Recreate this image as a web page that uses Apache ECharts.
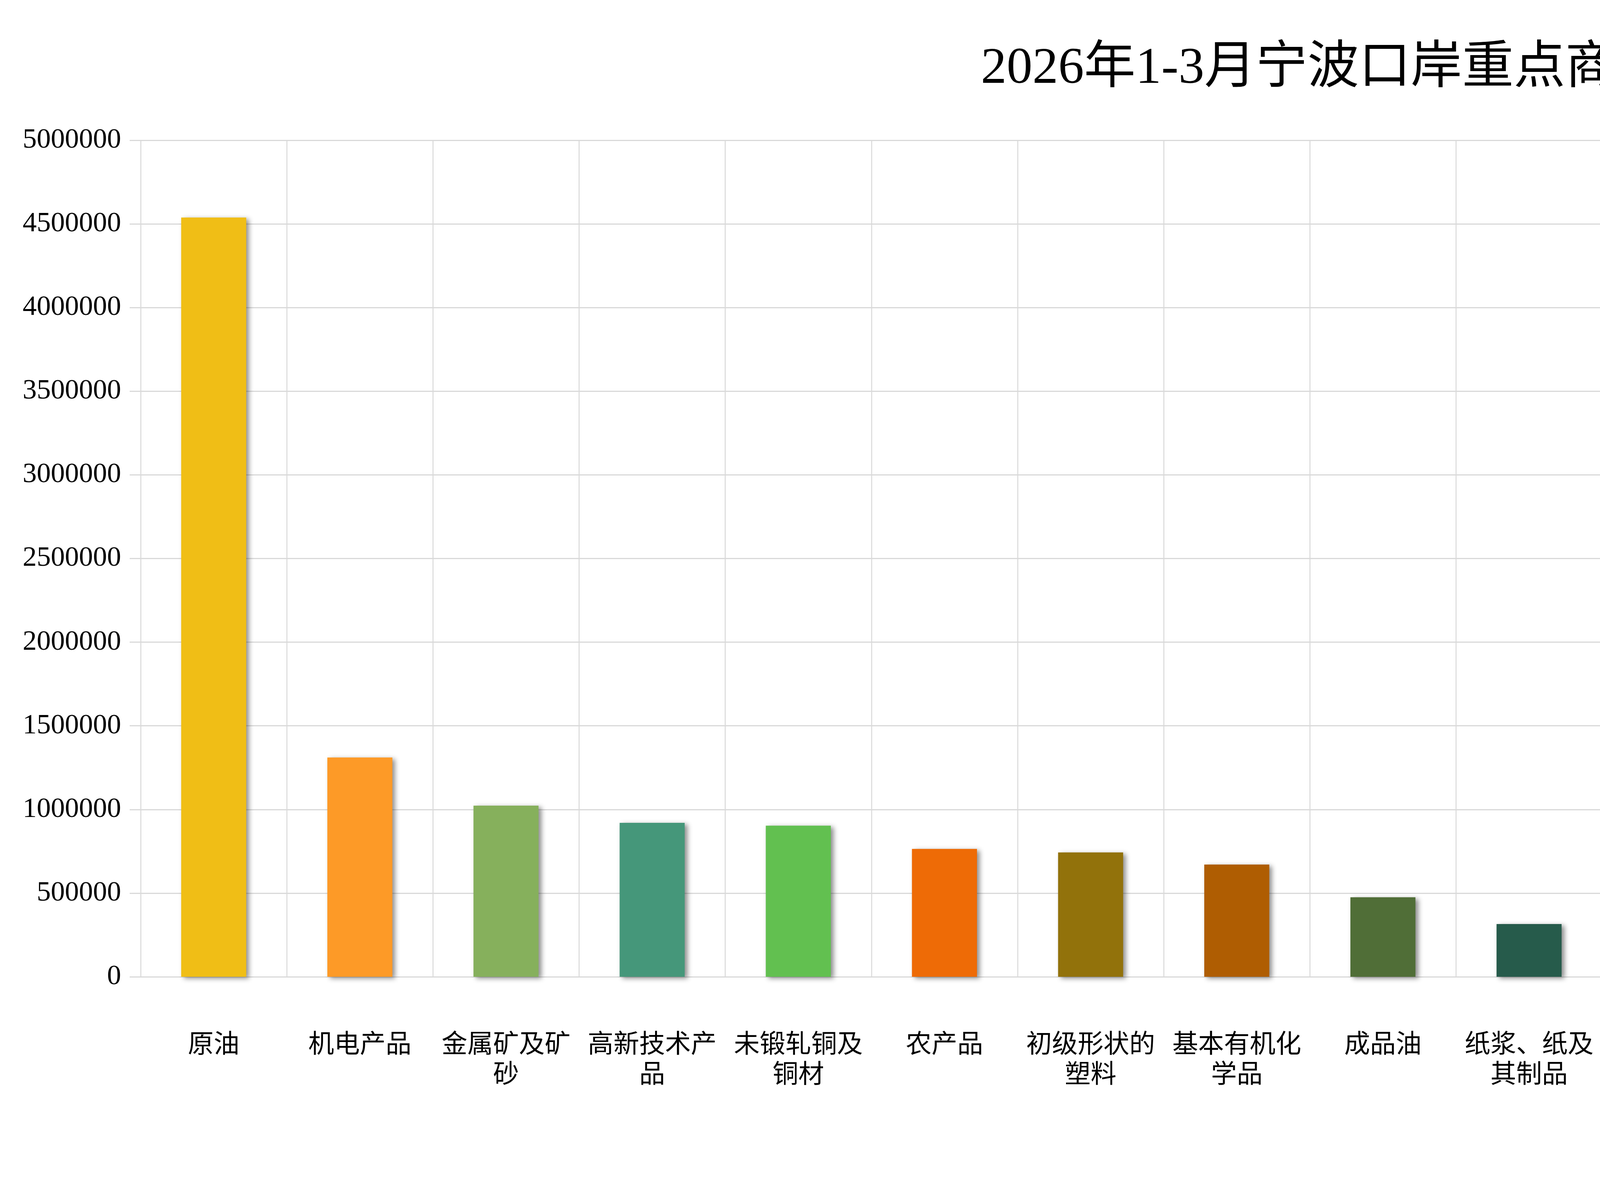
<!DOCTYPE html>
<html lang="zh-CN">
<head>
<meta charset="UTF-8">
<title>2026年1-3月宁波口岸重点商品前二十排序（进口）</title>
<script src="https://cdn.jsdelivr.net/npm/echarts@6/dist/echarts.min.js"></script>
<style>
    html, body { margin: 0; padding: 0; background: #fff; overflow: hidden; }
    #chart { width: 7863px; height: 3079px; }
</style>
</head>
<body>
<div id="chart"></div>
<script>
// 商品名称
const categories = [
    '原油', '机电产品', '金属矿及矿砂', '高新技术产品', '未锻轧铜及铜材',
    '农产品', '初级形状的塑料', '基本有机化学品', '成品油', '纸浆、纸及其制品',
    '未锻轧铝及铝材', '天然气', '天然及合成橡胶（包括胶乳）', '玻璃及其制品', '美容化妆品及洗护用品',
    '纺织纱线、织物及其制品', '钢材', '木及其制品', '塑料制品', '医药材及药品'
];

// 进口额（万元）
const importValues = [
    4538000, 1311000, 1023000, 920000, 903000,
    764000, 743000, 671000, 475000, 315000,
    195000, 164000, 155000, 126000, 113000,
    94000, 58000, 51500, 37500, 37000
];

// 每根柱子的颜色
const barColors = [
    '#F0BE16', '#FD9A27', '#86B05C', '#45977A', '#62C050',
    '#EE6B06', '#92720B', '#AF5D02', '#506E37', '#265B4B',
    '#387A2B', '#923F02', '#F4C942', '#FCAD4E', '#9EC17F',
    '#61B49A', '#7ECC72', '#FE8729', '#C49A0C', '#E97B07'
];

const FONT = "'Liberation Serif', 'Noto Sans CJK SC', serif";
const GRID_COLOR = '#d9d9d9';

// 每五个字换一行
function wrapLabel(text) {
    const chars = Array.from(text);
    const lines = [];
    for (let i = 0; i < chars.length; i += 5) {
        lines.push(chars.slice(i, i + 5).join(''));
    }
    return lines.join('\n');
}

window.addEventListener('DOMContentLoaded', function() {
    const chart = echarts.init(document.getElementById('chart'), null, { renderer: 'canvas' });
    const option = {
        backgroundColor: '#fff',
        animation: false,
        textStyle: { fontFamily: FONT },
        title: {
            text: '2026年1-3月宁波口岸重点商品前二十排序（进口）',
            left: 3980,
            top: 106,
            textAlign: 'center',
            textStyle: {
                fontFamily: FONT,
                fontSize: 132,
                fontWeight: 'normal',
                color: '#000'
            }
        },
        graphic: [
            {
                type: 'text',
                right: 208,
                top: 204,
                style: {
                    text: '单位：万元',
                    font: "normal 80px " + FONT,
                    fill: '#000'
                }
            }
        ],
        grid: {
            left: 360,
            right: 20,
            top: 359,
            bottom: 579,
            containLabel: false
        },
        xAxis: {
            type: 'category',
            data: categories,
            axisLine: { lineStyle: { color: GRID_COLOR, width: 3 } },
            axisTick: { show: false },
            splitLine: {
                show: true,
                interval: 0,
                lineStyle: { color: GRID_COLOR, width: 2.5 }
            },
            axisLabel: {
                interval: 0,
                margin: 138,
                fontFamily: FONT,
                fontSize: 66,
                lineHeight: 77,
                color: '#000',
                align: 'center',
                formatter: wrapLabel
            }
        },
        yAxis: {
            type: 'value',
            min: 0,
            max: 5000000,
            interval: 500000,
            axisLine: { show: false },
            axisTick: {
                show: true,
                length: 28,
                lineStyle: { color: GRID_COLOR, width: 3 }
            },
            splitLine: { lineStyle: { color: GRID_COLOR, width: 3 } },
            axisLabel: {
                margin: 50,
                fontFamily: FONT,
                fontSize: 72,
                color: '#000',
                formatter: function(value) {
                    return String(value);
                }
            }
        },
        series: [
            {
                name: '进口',
                type: 'bar',
                barWidth: '44.5%',
                data: importValues,
                itemStyle: {
                    color: function(params) {
                        return barColors[params.dataIndex];
                    },
                    shadowColor: 'rgba(0, 0, 0, 0.45)',
                    shadowBlur: 12,
                    shadowOffsetX: 7,
                    shadowOffsetY: 4
                }
            }
        ]
    };
    chart.setOption(option);
});
</script>
</body>
</html>
